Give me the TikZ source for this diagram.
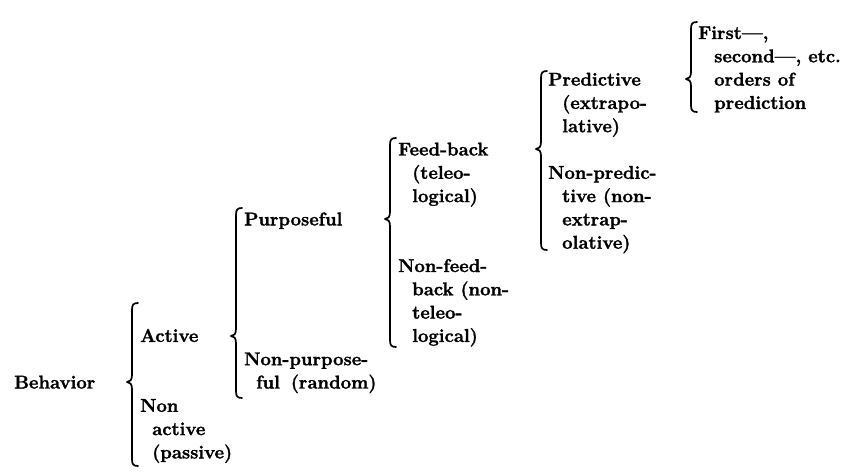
\documentclass[tikz,border=0pt]{standalone}
\usepackage{fontspec}
\setmainfont{Latin Modern Roman}[BoldFeatures={FakeBold=1.6}]
\newcommand\ry[1]{39+23.3*#1}
\newcommand\mybrace[4]{% x, top, tip, bottom
  \draw[bracestyle] ({#1+6},#2) .. controls ({#1+1},#2) and (#1,{#2+2}) .. (#1,{#2+7})
    -- (#1,{#3-7}) .. controls (#1,{#3-2}) and ({#1-2},#3) .. ({#1-5},#3)
    .. controls ({#1-2},#3) and (#1,{#3+2}) .. (#1,{#3+7})
    -- (#1,{#4-7}) .. controls (#1,{#4-2}) and ({#1+1},#4) .. ({#1+6},#4);
}
\begin{document}
\begin{tikzpicture}[x=1pt,y=-1pt,
  lbl/.style={anchor=base west, inner sep=0pt, font=\fontsize{18.5}{22}\selectfont\bfseries},
  bracestyle/.style={line width=1.7pt, line cap=round, line join=round}]
\fill[white] (0,0) rectangle (851,473);
\useasboundingbox (0,0) rectangle (851,473);
% level 0
\node[lbl] (beh) at (14,{\ry{15}}) {Behavior};
\mybrace{132}{303}{382}{466}
% level 1
\node[lbl] (act) at (140,{\ry{13}}) {Active};
\node[lbl] (non1) at (140,{\ry{16}}) {Non};
\node[lbl] (non2) at (152,{\ry{17}}) {active};
\node[lbl] (non3) at (152,{\ry{18}}) {(passive)};
\mybrace{236}{208}{336}{398}
% level 2
\node[lbl] (pur) at (244,{\ry{8}}) {Purposeful};
\node[lbl] (np1) at (244,{\ry{14}}) {Non-purpose-};
\node[lbl] (np2) at (256,{\ry{15}}) {ful\hspace{4pt} (random)};
\mybrace{390}{138}{219}{347}
% level 3
\node[lbl] (fb1) at (398,{\ry{5}}) {Feed-back};
\node[lbl] (fb2) at (412,{\ry{6}}) {(teleo-};
\node[lbl] (fb3) at (412,{\ry{7}}) {logical)};
\node[lbl] (nf1) at (398,{\ry{10}}) {Non-feed-};
\node[lbl] (nf2) at (412,{\ry{11}}) {back (non-};
\node[lbl] (nf3) at (412,{\ry{12}}) {teleo-};
\node[lbl] (nf4) at (412,{\ry{13}}) {logical)};
\mybrace{541}{71}{149}{250}
% level 4
\node[lbl] (pr1) at (548,{\ry{2}}) {Predictive};
\node[lbl] (pr2) at (562,{\ry{3}}) {(extrapo-};
\node[lbl] (pr3) at (562,{\ry{4}}) {lative)};
\node[lbl] (npr1) at (548,{\ry{6}}) {Non-predic-};
\node[lbl] (npr2) at (562,{\ry{7}}) {tive (non-};
\node[lbl] (npr3) at (562,{\ry{8}}) {extrap-};
\node[lbl] (npr4) at (562,{\ry{9}}) {olative)};
\mybrace{691}{22}{79}{112}
% level 5
\node[lbl] (fo1) at (698,{\ry{0}}) {First---,};
\node[lbl] (fo2) at (714,{\ry{1}}) {second---, etc.};
\node[lbl] (fo3) at (714,{\ry{2}}) {orders of};
\node[lbl] (fo4) at (714,{\ry{3}}) {prediction};
\end{tikzpicture}
\end{document}
